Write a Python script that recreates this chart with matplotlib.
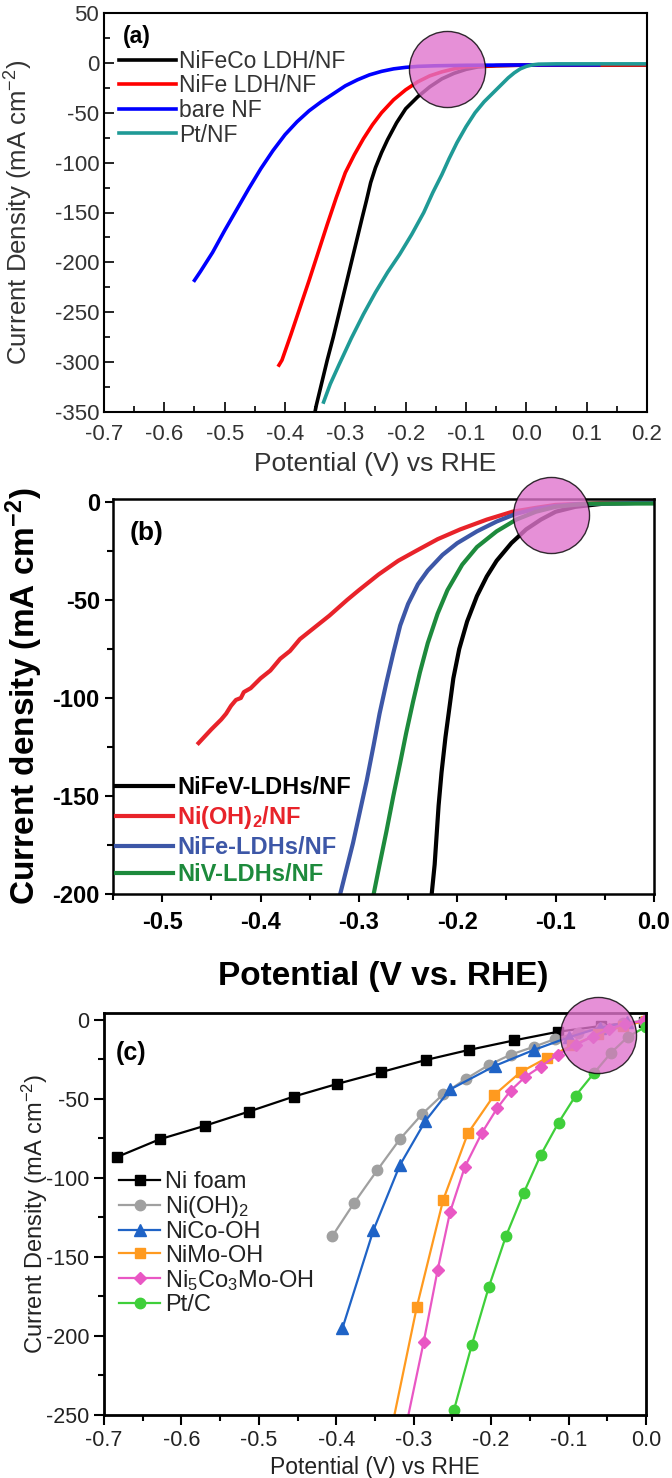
import matplotlib
matplotlib.use("Agg")
import matplotlib.pyplot as plt
from matplotlib.ticker import MultipleLocator, FormatStrFormatter

plt.rcParams["font.family"] = ["Liberation Sans", "DejaVu Sans"]
plt.rcParams["mathtext.default"] = "regular"
plt.rcParams["axes.unicode_minus"] = False

# ---- panel (a) data: potential (V vs RHE), current density (mA cm-2)
a_nifeco_v = [0.2, 0.0, -0.05, -0.08, -0.1, -0.12, -0.14, -0.16, -0.18, -0.2, -0.215,
              -0.23, -0.24, -0.25, -0.258, -0.265, -0.272, -0.28, -0.29, -0.3, -0.31,
              -0.32, -0.33, -0.338, -0.344, -0.348, -0.351]
a_nifeco_j = [-2, -2.2, -2.8, -4, -6.5, -10.5, -16, -24, -34, -46, -60,
              -77, -90, -105, -120, -138, -155, -175, -200, -225, -250,
              -275, -298, -318, -333, -343, -352]
a_nife_v = [0.2, 0.0, -0.05, -0.1, -0.12, -0.14, -0.16, -0.18, -0.2, -0.22, -0.24,
            -0.255, -0.27, -0.285, -0.3, -0.315, -0.33, -0.345, -0.36, -0.375, -0.39,
            -0.405, -0.41]
a_nife_j = [-2, -2.2, -2.8, -4, -6, -9, -13, -19, -27, -37, -50,
            -62, -76, -92, -110, -135, -162, -190, -218, -245, -272,
            -298, -303]
a_bare_v = [0.12, 0.0, -0.1, -0.15, -0.18, -0.2, -0.22, -0.24, -0.26, -0.28, -0.3,
            -0.32, -0.34, -0.36, -0.38, -0.4, -0.42, -0.44, -0.46, -0.48, -0.5,
            -0.52, -0.54, -0.55]
a_bare_j = [-2, -2.1, -2.4, -2.9, -3.5, -4.5, -6, -8.5, -12, -17, -23,
            -31, -39, -48, -59, -72, -88, -106, -126, -147, -168,
            -190, -209, -218]
a_pt_v = [0.2, 0.05, 0.02, 0.01, 0.0, -0.01, -0.02, -0.03, -0.04, -0.05, -0.06, -0.07,
          -0.085, -0.1, -0.115, -0.128, -0.14, -0.155, -0.17, -0.19, -0.21, -0.23,
          -0.25, -0.27, -0.29, -0.31, -0.325, -0.336]
a_pt_j = [-1, -1, -1.3, -2, -3.5, -6, -10, -15, -21, -27, -33, -39,
          -50, -64, -80, -96, -112, -130, -150, -172, -192, -210,
          -230, -252, -276, -302, -322, -340]

# ---- panel (b)
b_nifev_v = [0.0, -0.05, -0.08, -0.1, -0.115, -0.13, -0.145, -0.16, -0.17, -0.18, -0.19,
             -0.198, -0.204, -0.208, -0.212, -0.216, -0.219, -0.221, -0.223, -0.226]
b_nifev_j = [-0.3, -0.8, -2.5, -5, -9, -14, -21, -30, -38, -48, -61,
             -75, -90, -105, -120, -138, -155, -170, -185, -200]
b_nioh_v = [0.0, -0.05, -0.1, -0.12, -0.144, -0.17, -0.197, -0.22, -0.242, -0.26, -0.28,
            -0.3, -0.312, -0.33, -0.35, -0.36, -0.37, -0.38, -0.39, -0.4, -0.41,
            -0.417, -0.42, -0.425, -0.43, -0.435, -0.44, -0.45, -0.463]
b_nioh_j = [-0.2, -0.5, -1.5, -3, -5, -9, -14, -19, -25, -30, -37,
            -45, -50, -58, -66, -70, -76, -80, -86, -90, -95,
            -97, -100, -101, -104, -108, -111, -116, -123]
b_nife_v = [0.0, -0.08, -0.1, -0.12, -0.14, -0.16, -0.18, -0.2, -0.215, -0.23, -0.24,
            -0.25, -0.258, -0.265, -0.272, -0.279, -0.285, -0.292, -0.299, -0.306,
            -0.313, -0.319]
b_nife_j = [-0.3, -1.2, -2, -3.5, -6, -10, -15, -21, -27, -35, -42,
            -52, -63, -77, -92, -108, -124, -142, -158, -174, -188, -200]
b_niv_v = [0.0, -0.07, -0.1, -0.12, -0.14, -0.16, -0.18, -0.195, -0.21, -0.22, -0.23,
           -0.238, -0.245, -0.252, -0.258, -0.265, -0.272, -0.279, -0.285]
b_niv_j = [-0.8, -0.9, -2.5, -5, -9, -15, -23, -32, -45, -57, -72,
           -87, -102, -118, -133, -150, -168, -185, -200]

# ---- panel (c)
c_nifoam_v = [-0.683, -0.628, -0.570, -0.513, -0.455, -0.399, -0.342, -0.284, -0.229,
              -0.171, -0.114, -0.058, -0.003]
c_nifoam_j = [-86.7, -75.5, -67, -58, -48.5, -40.5, -33, -25.3, -19, -13, -7.5, -3.8, -1]
c_nioh_v = [-0.405, -0.377, -0.347, -0.318, -0.289, -0.262, -0.233, -0.203, -0.175,
            -0.145, -0.117, -0.088, -0.058, -0.03, -0.003]
c_nioh_j = [-136.7, -115.8, -95, -75.5, -59.5, -47, -37.4, -28.5, -22, -17, -12, -8, -5, -2, -0.5]
c_nico_v = [-0.392, -0.352, -0.318, -0.285, -0.253, -0.195, -0.145, -0.1, -0.06, -0.025]
c_nico_j = [-195, -133, -92, -64, -44, -29, -19, -11, -5, -1.5]
c_nimo_v = [-0.33, -0.296, -0.262, -0.23, -0.196, -0.162, -0.128, -0.095, -0.062, -0.03, 0.0]
c_nimo_j = [-262, -181.6, -114, -71.7, -47.5, -33, -24, -16, -9, -4, -0.5]
c_ni5_v = [-0.312, -0.287, -0.269, -0.253, -0.234, -0.212, -0.192, -0.175, -0.156,
           -0.136, -0.114, -0.091, -0.069, -0.048, -0.027, -0.003]
c_ni5_j = [-262, -203.5, -158, -121.5, -93, -71.5, -55.7, -44.8, -36,
           -29.5, -22, -15.8, -10.5, -5.8, -2.5, -0.5]
c_pt_v = [-0.257, -0.248, -0.225, -0.203, -0.181, -0.158, -0.136, -0.113, -0.091,
          -0.067, -0.045, -0.023, 0.0]
c_pt_j = [-262, -246.8, -205.7, -169, -137, -109.5, -85.5, -65, -48, -33.5, -20.7, -10.5, -4.3]

# highlight circle centres (V, mA cm-2)
mark_a = (-0.132, -6)
mark_b = (-0.105, -6.5)
mark_c = (-0.062, -9.5)

W, H = 672, 1478


def box(left, top, right, bottom):
    return [left / W, 1 - bottom / H, (right - left) / W, (bottom - top) / H]


def highlight(ax, xy):
    ax.scatter([xy[0]], [xy[1]], s=3000, facecolor="#e075cd", alpha=0.8,
               edgecolor="black", linewidth=1.0, zorder=10, clip_on=False)


def set_ticks(ax, xstep=0.1, ystep=50):
    ax.xaxis.set_major_locator(MultipleLocator(xstep))
    ax.xaxis.set_minor_locator(MultipleLocator(xstep / 2))
    ax.xaxis.set_major_formatter(FormatStrFormatter("%.1f"))
    ax.yaxis.set_major_locator(MultipleLocator(ystep))
    ax.yaxis.set_minor_locator(MultipleLocator(ystep / 2))


fig = plt.figure(figsize=(W / 100, H / 100), dpi=100)

# ===================== (a)
ax = fig.add_axes(box(104, 13, 647, 412))
lw = 2.6
ax.plot(a_nifeco_v, a_nifeco_j, color="black", lw=lw, label="NiFeCo LDH/NF")
ax.plot(a_nife_v, a_nife_j, color="#ff0000", lw=lw, label="NiFe LDH/NF")
ax.plot(a_bare_v, a_bare_j, color="#0000ff", lw=lw, label="bare NF")
ax.plot(a_pt_v, a_pt_j, color="#1f9a96", lw=lw, label="Pt/NF")
highlight(ax, mark_a)
ax.set_xlim(-0.7, 0.2)
ax.set_ylim(-350, 50)
set_ticks(ax)
ax.tick_params(which="both", direction="in", labelsize=16, labelcolor="#333333",
               width=1.2)
ax.tick_params(which="major", length=7)
ax.tick_params(which="minor", length=4)
ax.tick_params(axis="x", pad=9)
for s in ax.spines.values():
    s.set_linewidth(1.5)
ax.set_xlabel("Potential (V) vs RHE", fontsize=19, color="#333333")
ax.set_ylabel("Current Density (mA cm$^{-2}$)", fontsize=18.5, color="#333333")
ax.xaxis.set_label_coords(0.5, -0.1)
ax.yaxis.set_label_coords(-0.127, 0.5)
ax.text(0.035, 0.94, "(a)", transform=ax.transAxes, fontsize=16.5, fontweight="bold",
        va="center", ha="left")
ax.legend(loc="upper left", bbox_to_anchor=(0.028, 0.908), frameon=False,
          fontsize=16.5, handlelength=2.5, handletextpad=0.12, labelspacing=0.07,
          borderaxespad=0, borderpad=0, labelcolor="#333333")

# ===================== (b)
ax = fig.add_axes(box(113, 499, 654, 894))
lw = 3.0
ax.plot(b_nifev_v, b_nifev_j, color="black", lw=lw, label="NiFeV-LDHs/NF")
ax.plot(b_nioh_v, b_nioh_j, color="#e8232a", lw=lw, label="Ni(OH)$_2$/NF")
ax.plot(b_nife_v, b_nife_j, color="#3d57a7", lw=lw, label="NiFe-LDHs/NF")
ax.plot(b_niv_v, b_niv_j, color="#1d8a3c", lw=lw, label="NiV-LDHs/NF")
highlight(ax, mark_b)
ax.set_xlim(-0.55, 0.0)
ax.set_ylim(-200, 1.5)
set_ticks(ax)
ax.tick_params(which="both", direction="out", labelsize=17, width=1.5)
ax.tick_params(which="major", length=6)
ax.tick_params(which="minor", length=4)
ax.tick_params(axis="x", pad=6)
for lab in ax.get_xticklabels() + ax.get_yticklabels():
    lab.set_fontweight("bold")
for s in ax.spines.values():
    s.set_linewidth(1.8)
ax.set_xlabel("Potential (V vs. RHE)", fontsize=24, fontweight="bold")
ax.set_ylabel("Current density (mA cm$^{-2}$)", fontsize=24, fontweight="bold")
ax.xaxis.set_label_coords(0.5, -0.17)
ax.yaxis.set_label_coords(-0.126, 0.5)
ax.text(0.03, 0.914, "(b)", transform=ax.transAxes, fontsize=19, fontweight="bold",
        va="center", ha="left")
leg = ax.legend(loc="lower left", bbox_to_anchor=(0.0055, 0.019), frameon=False,
                fontsize=17, handlelength=2.4, handletextpad=0.2, labelspacing=0.2,
                borderaxespad=0, borderpad=0, labelcolor="linecolor")
for t in leg.get_texts():
    t.set_fontweight("bold")

# ===================== (c)
ax = fig.add_axes(box(104, 1013, 646, 1415))
lw = 1.6
ax.plot(c_nifoam_v, c_nifoam_j, color="black", lw=lw, marker="s", ms=7, label="Ni foam")
ax.plot(c_nioh_v, c_nioh_j, color="#a0a0a0", lw=lw, marker="o", ms=7.5, label="Ni(OH)$_2$")
ax.plot(c_nico_v, c_nico_j, color="#1f63c6", lw=lw, marker="^", ms=8.5, label="NiCo-OH")
ax.plot(c_nimo_v, c_nimo_j, color="#ff9a1f", lw=lw, marker="s", ms=7, label="NiMo-OH")
ax.plot(c_ni5_v, c_ni5_j, color="#e957c4", lw=lw, marker="D", ms=6.5,
        label="Ni$_5$Co$_3$Mo-OH")
ax.plot(c_pt_v, c_pt_j, color="#3fcf3a", lw=lw, marker="o", ms=7.5, label="Pt/C")
highlight(ax, mark_c)
ax.set_xlim(-0.7, 0.0)
ax.set_ylim(-250, 4.4)
set_ticks(ax)
ax.tick_params(which="both", direction="out", labelsize=15.5, labelcolor="#222222",
               width=1.5)
ax.tick_params(which="major", length=7)
ax.tick_params(which="minor", length=4)
for s in ax.spines.values():
    s.set_linewidth(2.0)
ax.set_xlabel("Potential (V) vs RHE", fontsize=16.5, color="#222222")
ax.set_ylabel("Current Density (mA cm$^{-2}$)", fontsize=17, color="#222222")
ax.xaxis.set_label_coords(0.5, -0.103)
ax.yaxis.set_label_coords(-0.1, 0.5)
ax.text(0.022, 0.90, "(c)", transform=ax.transAxes, fontsize=18, fontweight="bold",
        va="center", ha="left")
ax.legend(loc="upper left", bbox_to_anchor=(0.028, 0.607), frameon=False,
          fontsize=17, handlelength=1.75, handletextpad=0.2, labelspacing=0.05,
          borderaxespad=0, borderpad=0, labelcolor="#222222")

fig.savefig("out.png", dpi=100)
